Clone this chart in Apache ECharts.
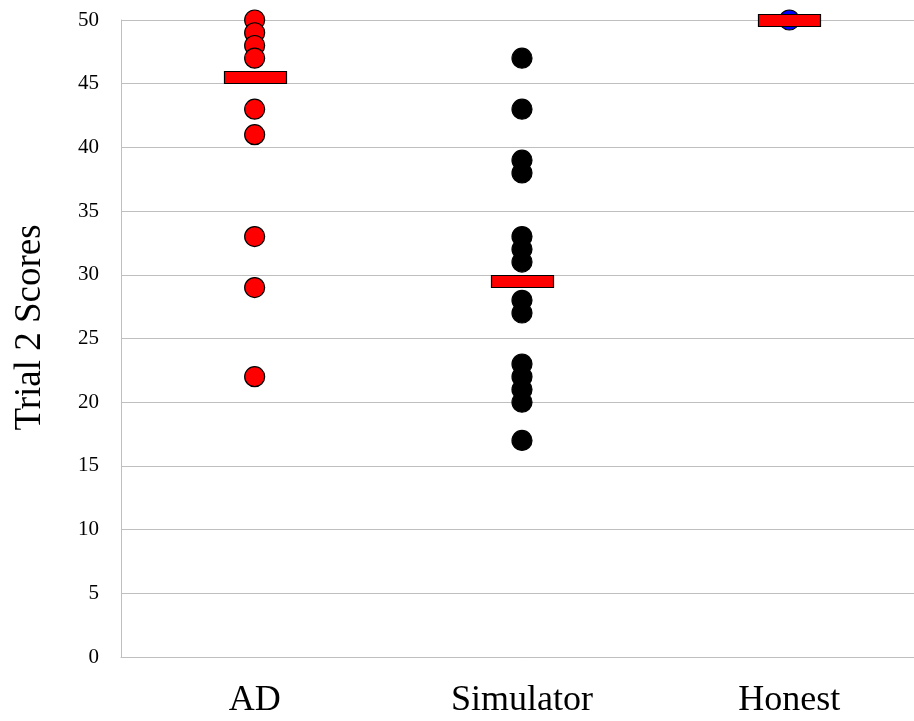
<!DOCTYPE html>
<html>
<head>
<meta charset="utf-8">
<script src="https://cdn.jsdelivr.net/npm/echarts@6/dist/echarts.min.js"></script>
<style>
  html, body { margin: 0; padding: 0; background: #fff; overflow: hidden; }
  #chart { width: 923px; height: 721px; }
</style>
</head>
<body>
<div id="chart"></div>
<script>
var categories = ['AD', 'Simulator', 'Honest'];
var yTicks = { min: 0, max: 50, interval: 5 };

// individual trial 2 scores per group
var adScores = [50, 49, 48, 47, 43, 41, 33, 29, 22];
var simulatorScores = [47, 43, 39, 38, 33, 32, 31, 28, 27, 23, 22, 21, 20, 17];
var honestScores = [50];

// group means (red bars)
var groupMeans = [45.5, 29.5, 50];

var chart = echarts.init(document.getElementById('chart'));

function toPoints(cat, values) {
    return values.map(function (v) { return [cat, v]; });
}

var serif = '"Liberation Serif", "Times New Roman", serif';

var option = {
    backgroundColor: '#fff',
    animation: false,
    grid: { left: 121, right: 0, top: 20, bottom: 64 },
    xAxis: {
        type: 'category',
        data: categories,
        boundaryGap: true,
        axisLine: { show: true, lineStyle: { color: '#bfbfbf', width: 1 } },
        axisTick: { show: false },
        axisLabel: { color: '#000', fontFamily: serif, fontSize: 36, margin: 26 },
        splitLine: { show: false }
    },
    yAxis: {
        type: 'value',
        min: yTicks.min,
        max: yTicks.max,
        interval: yTicks.interval,
        name: 'Trial 2 Scores',
        nameLocation: 'middle',
        nameGap: 72,
        nameTextStyle: { color: '#000', fontFamily: serif, fontSize: 37, padding: [0, 0, 0, 22] },
        axisLine: { show: true, lineStyle: { color: '#bfbfbf', width: 1 } },
        axisTick: { show: false },
        axisLabel: { color: '#000', fontFamily: serif, fontSize: 21, margin: 22 },
        splitLine: { show: true, lineStyle: { color: '#bfbfbf', width: 1 } }
    },
    series: [
        {
            name: 'AD',
            type: 'scatter',
            symbol: 'circle',
            symbolSize: 20,
            data: toPoints('AD', adScores),
            itemStyle: { color: '#ff0000', borderColor: '#000', borderWidth: 1.2, opacity: 1 },
            z: 2
        },
        {
            name: 'Simulator',
            type: 'scatter',
            symbol: 'circle',
            symbolSize: 20,
            data: toPoints('Simulator', simulatorScores),
            itemStyle: { color: '#000', borderColor: '#000', borderWidth: 1.2, opacity: 1 },
            z: 2
        },
        {
            name: 'Honest',
            type: 'scatter',
            symbol: 'circle',
            symbolSize: 20,
            data: toPoints('Honest', honestScores),
            itemStyle: { color: '#0000ff', borderColor: '#000', borderWidth: 1.2, opacity: 1 },
            z: 2
        },
        {
            // mean markers: flat red boxes centred on each group mean
            name: 'Mean',
            type: 'custom',
            data: categories.map(function (c, i) { return [c, groupMeans[i]]; }),
            renderItem: function (params, api) {
                var p = api.coord([api.value(0), api.value(1)]);
                return {
                    type: 'rect',
                    shape: { x: Math.round(p[0] - 31) + 0.5, y: Math.round(p[1] - 6) + 0.5, width: 62, height: 12 },
                    style: { fill: '#ff0000', stroke: '#000', lineWidth: 1.2 }
                };
            },
            z: 3
        }
    ]
};

chart.setOption(option);
</script>
</body>
</html>
